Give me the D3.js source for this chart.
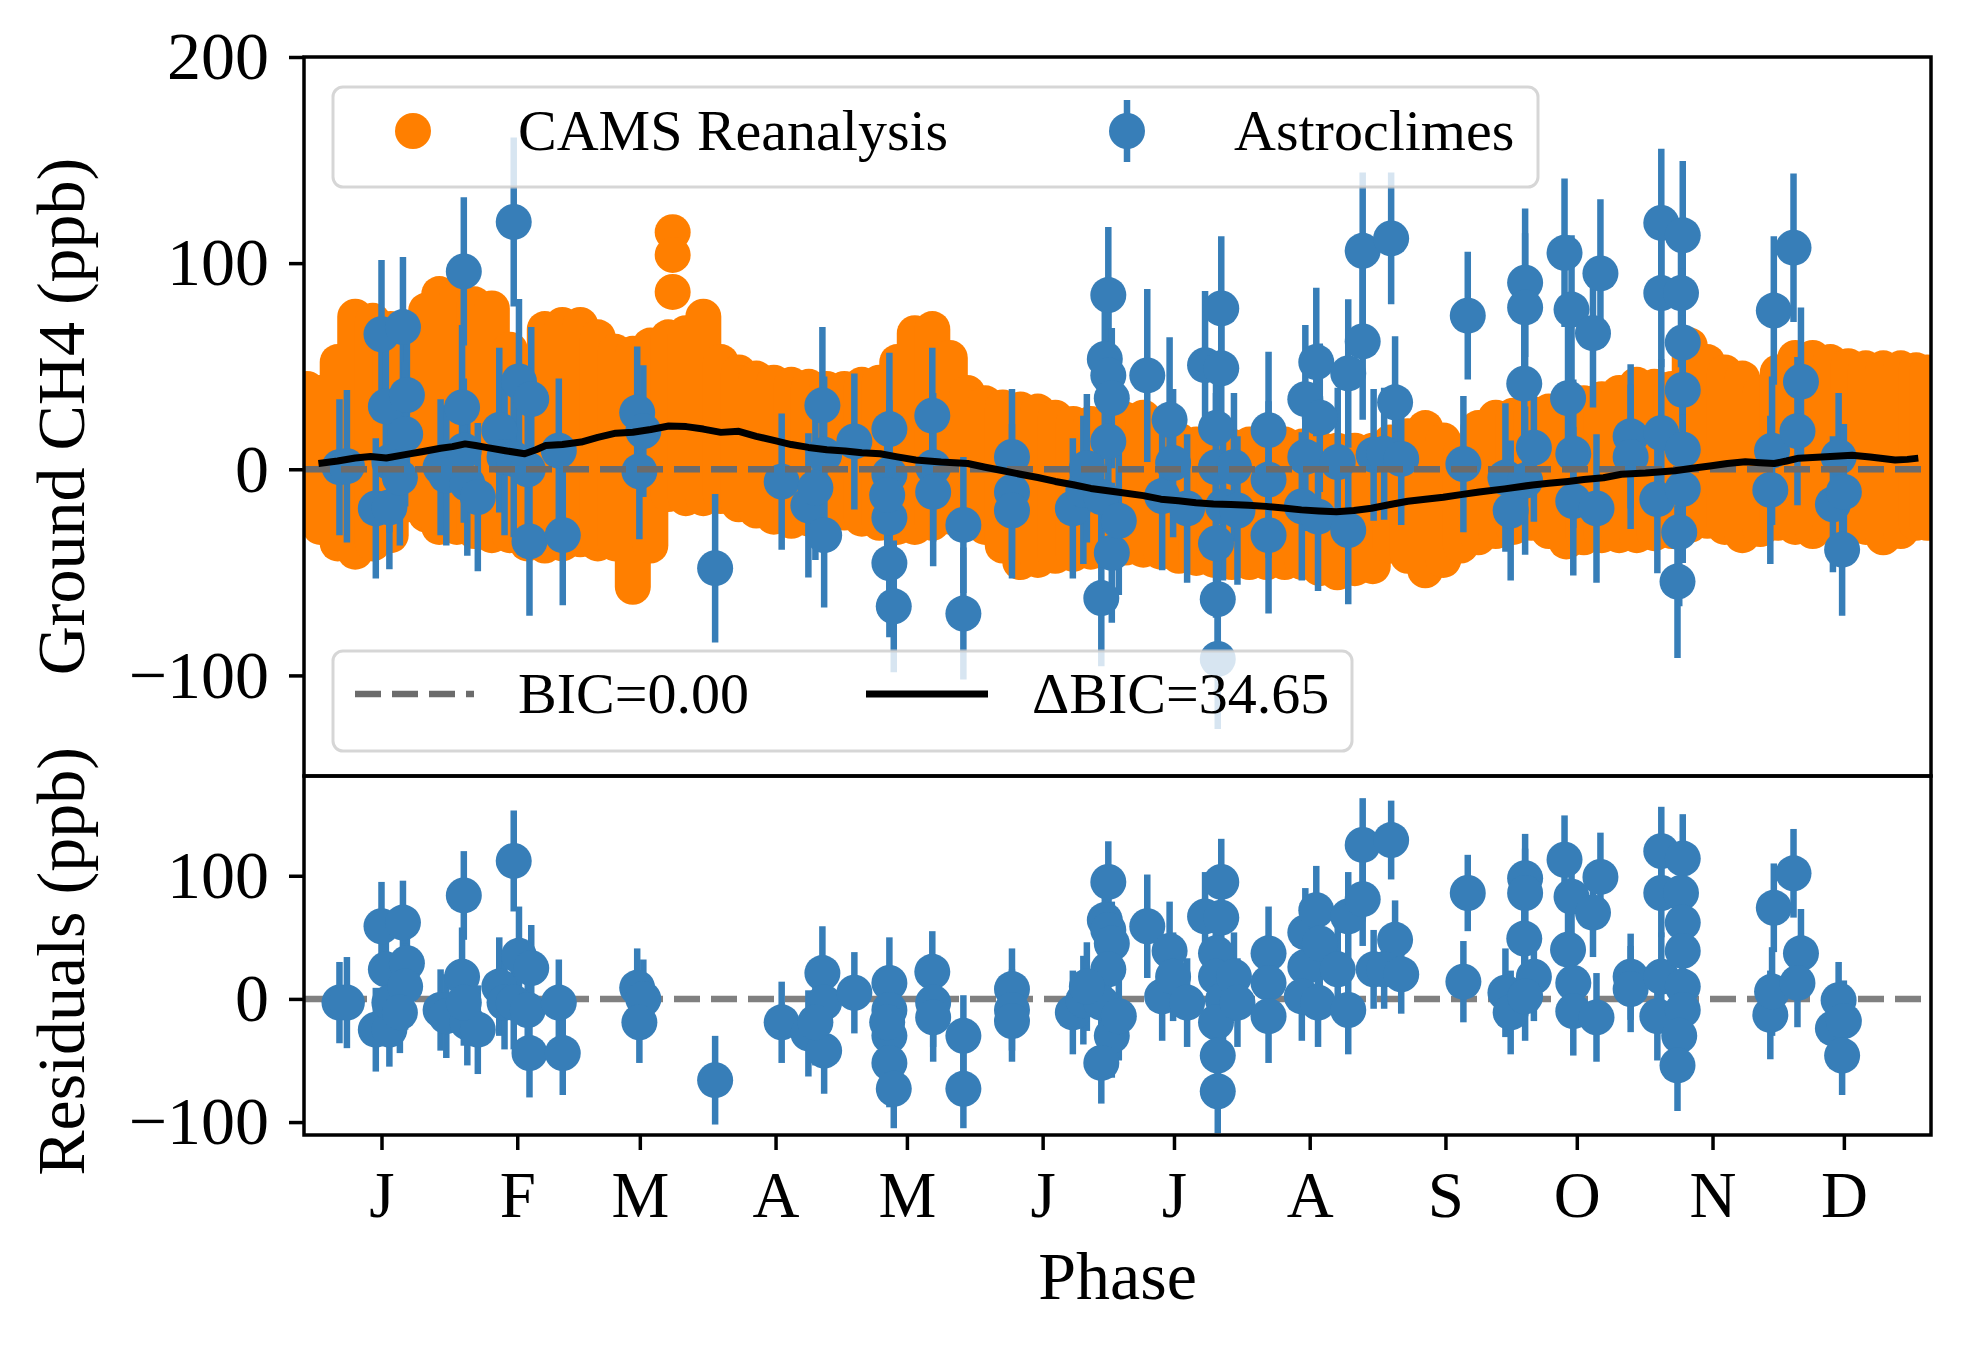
<!DOCTYPE html>
<html lang="en">
<head>
    <meta charset="UTF-8">
    <title>Ground CH4</title>
    <style>
        body { margin: 0; background: #fff; }
        svg text { font-family: "Liberation Serif", "DejaVu Serif", serif; }
    </style>
</head>
<body>
<svg id="chart" width="1966" height="1345"></svg>
<script src="https://d3js.org/d3.v7.min.js"></script>
<script>
// month ticks (day of year) and labels
let monthTicks = [0, 31, 59, 90, 120, 151, 181, 212, 243, 273, 304, 334];
let monthLabels = ["J", "F", "M", "A", "M", "J", "J", "A", "S", "O", "N", "D"];
let mainTicks = [200, 100, 0, -100];
let residTicks = [100, 0, -100];

// CAMS reanalysis: spread of the daily values (upper / lower marker centres)
let camsDay  = [-17, -14, -10, -6, -2, 2.1, 6.1, 10.2, 13.2, 17.2, 21.2, 25.2, 29.3, 33.3, 37.3, 41.3, 45.4, 49.4, 53.4, 57.4, 61.4, 65.5, 69.5, 73.5, 77.5, 81.6, 85.6, 89.6, 93.6, 97.6, 101.7, 105.7, 109.7, 113.7, 117.8, 121.8, 125.8, 129.8, 133.8, 137.9, 141.9, 145.9, 149.9, 153.9, 158, 162, 166, 170, 174, 178, 182.1, 186.1, 190.2, 194.2, 198.2, 202.2, 206.3, 210.3, 214.3, 218.3, 222.3, 226.4, 230.4, 234.4, 238.4, 242.5, 246.5, 250.5, 254.5, 258.5, 262.6, 266.6, 270.6, 274.6, 278.7, 282.7, 286.7, 290.7, 294.7, 298.8, 302.8, 306.8, 310.8, 314.9, 318.9, 322.9, 326.9, 330.9, 335, 339, 343, 347, 350.5, 353];
let camsHigh = [39, 37, 52, 74, 72, 68, 68, 77, 85, 83, 80, 78, 58, 49, 68, 70, 70, 64, 57, 56, 60, 64, 66, 74, 52, 47, 44, 42, 41, 40, 39, 39, 41, 42, 52, 66, 68, 54, 37, 32, 30, 29, 28, 25, 22, 22, 23, 24, 25, 16, 14, 12, 11, 11, 12, 12, 12, 11, 10, 9, 9, 9, 13, 16, 20, 14, 8, 20, 25, 26, 27, 28, 30, 32, 34, 37, 41, 40, 39, 60, 52, 47, 44, 37, 47, 54, 54, 52, 50, 49, 49, 49, 48, 47];
let camsLow  = [-14, -28, -36, -40, -36, -32, -17, -22, -28, -28, -30, -32, -32, -36, -37, -36, -34, -36, -36, -57, -37, -12, -14, -14, -13, -17, -20, -23, -25, -24, -23, -21, -24, -26, -28, -28, -26, -23, -25, -28, -37, -45, -44, -42, -41, -40, -39, -38, -39, -40, -42, -43, -44, -45, -45, -45, -45, -45, -48, -50, -48, -47, -37, -42, -49, -44, -37, -33, -30, -28, -26, -30, -35, -33, -32, -32, -32, -31, -30, -27, -25, -28, -32, -29, -26, -28, -30, -27, -23, -28, -33, -30, -26, -26];
let camsOutDay = [66.5, 66.5, 66.5];
let camsOutVal = [115, 104, 86];

// Astroclimes measurements: phase (day), value, error, residual
let astroDay = [-9.6, -7.9, -1.3, 0, 1, 1.8, 1.8, 4.9, 5.8, 5.4, 4.2, 13.5, 14.8, 18.8, 18.4, 19.6, 22, 18.8, 26.9, 28.1, 30.2, 31.4, 34.2, 33.8, 30.2, 33.4, 40.5, 41.4, 58.4, 59.8, 58.9, 76.2, 91.4, 97.5, 100.7, 101.1, 101.1, 99.1, 108,
    116, 116, 116, 116, 117, 115.5, 125.8, 126, 126, 132.9, 132.9, 144, 144, 144, 157.9, 160.3, 166, 165.2, 166, 166.8, 166, 164.4, 166.8, 164.4, 161.1, 168.4, 174.9, 180, 178.3, 180.8, 184, 188.1, 191.8, 191.8, 190.6, 190.6, 192.2, 190.6, 191, 191, 194.7, 195.5, 202.6, 202.6, 202.6, 211, 211, 210.2, 213.5, 213.9, 214.3, 220.8, 220.8, 224.1, 224.1, 218.4, 230.6, 231.5, 226.6, 229, 232.9,
    248.1, 247.1, 256.7, 257.9, 261.2, 261.2, 261, 263.2, 261.2, 270.2, 271.8, 271, 272.2, 272.2, 278.4, 276.7, 277.5, 285.3, 285.3, 292.3, 292.3, 291.4, 292.3, 297.2, 296.8, 297.2, 297.2, 297.2, 297.2, 296.4, 296, 318, 317.2, 317.6, 322.5, 324.2, 323.4, 332.8, 331.5, 334, 333.6];
let astroVal = [1, 1.5, -19, 65.5, 30.5, -18.5, 3.5, 69, 36, 17, -4, 1, -3, 96, 30, -7, -13.5, 9, 19, 6, 120, 42.6, 34, -35, 5, 0, 9, -32, 27.5, 18.5, -1, -48, -6, -17.5, 31, 7, -32, -9, 13.5,
    19.5, -2.5, -23.5, -45.5, -66.5, -12.5, 26, 1, -11, -27, -70, 6, -11, -20, -19, -10, 84.5, 53.5, 45.5, 34.5, 13.5, -13.5, -40.5, -62.5, 0.5, -25, 45.5, 24, -13, 3, -19, 50.5, 78, 49, 20, 1, -18, -36, -63, -92, 1, -20, 19, -5, -32, 34, 6, -18, 52, -23, 25, 46.5, -29.5, 106, 62, 3.5, 112, 32.5, 7, 7.5, 5,
    74.5, 2.5, -4, -20, 90.5, 78.5, 41.5, 10.5, -5.5, 105, 77.5, 34.5, 7.5, -15.5, 95, 66, -19, 16, 6, 119.5, 85.5, -14.5, 17.5, 113.5, 85.5, 61.5, 38.5, 9.5, -9.5, -30.5, -54.5, 77, -10, 9, 107.5, 42.5, 18.5, 6, -17, -11, -39];
let astroErr = [33, 37, 34, 36, 35, 30, 34, 34, 35, 35, 33, 33, 34, 36, 40, 35, 36, 35, 40, 38, 41, 40, 35, 36, 38, 38, 35, 34, 32, 32, 33, 36, 33, 35, 38, 38, 35, 35, 33,
    37, 36, 36, 36, 32, 36, 33, 36, 36, 33, 32, 33, 33, 33, 34, 36, 33, 34, 34, 34, 34, 34, 34, 33, 36, 36, 42, 40, 36, 36, 36, 36, 35, 36, 36, 36, 36, 36, 36, 34, 36, 36, 38, 38, 38, 36, 36, 36, 36, 36, 36, 36, 36, 38, 38, 36, 32, 32, 32, 32, 32,
    31, 33, 36, 34, 36, 36, 36, 36, 36, 36, 36, 36, 36, 36, 36, 36, 36, 35, 35, 36, 36, 36, 36, 36, 36, 36, 36, 36, 36, 36, 37, 36, 36, 36, 36, 36, 36, 31, 33, 33, 32];
let astroResid = [-3, -3, -25, 59, 24, -25, -3, 62, 29, 10, -11, -9, -14, 84, 18, -19, -25, -3, 10, -3, 112, 35, 25, -44, -3, -9, -3, -44, 9, 0, -19, -66, -19, -28, 21, -3, -42, -19, 5,
    13, -9, -30, -52, -73, -19, 22, -3, -15, -30, -73, 8, -9, -18, -11, -1, 95, 64, 56, 45, 24, -3, -30, -52, 10, -14, 59, 39, 2, 18, -3, 67, 95, 66, 37, 18, -1, -19, -46, -75, 18, -3, 37, 13, -14, 54, 26, 2, 72, -3, 45, 67, -9, 125, 81, 24, 129, 48, 24, 24, 20,
    86, 14, 5, -11, 98, 86, 49, 18, 2, 113, 83, 40, 13, -10, 99, 70, -15, 18, 8, 120, 86, -14, 18, 114, 86, 62, 39, 10, -9, -30, -54, 74, -13, 6, 102, 37, 13, -1, -24, -18, -46];

// best model (DeltaBIC=34.65)
let modelDay = [-14.4, -10, -6, -2.5, 1.1, 5.4, 9.2, 13.5, 16.2, 19.1, 21.5, 24.2, 28.3, 32.7, 35.3, 37.5, 41.3, 45.6, 49.4, 53.5, 57.4, 61.5, 65.6, 69.6, 73.5, 77.5, 81.6, 85.6, 89.6, 93.6, 97.5, 101.7, 105.9, 109.7, 113.9, 117.8, 122, 127.8, 133.9, 137.9, 142, 145.9, 149.9, 153.9, 158, 162, 168, 174, 178, 182, 186, 190, 194, 198, 202, 206, 210.1, 214.1, 218.1, 222.1, 226.1, 230.4, 234.4, 238.4, 242.5, 246.5, 250.7, 256.5, 262.9, 266.6, 271, 274.6, 279.1, 283.2, 288.7, 295.4, 299.4, 303.4, 307.4, 311.5, 314.9, 318.1, 320.9, 323.7, 328.9, 335.9, 340, 345.7, 348.5, 351];
let modelVal = [2.8, 4, 5.5, 6.2, 5.5, 7.1, 8.5, 10.2, 11, 12.3, 11.5, 10.5, 9, 7.5, 9.5, 11.5, 12, 13.2, 15.5, 17.5, 18, 19.3, 21, 20.7, 19.5, 17.9, 18.4, 16, 14, 12, 10.6, 9.5, 8.9, 8, 7.5, 6, 4.5, 3.5, 2.8, 1, -0.7, -2.4, -4, -5.9, -7.5, -9.3, -11, -12.8, -14.5, -15.3, -16.2, -16.8, -17.1, -17.5, -18, -18.8, -19.7, -20.2, -20.6, -20, -18.9, -17.1, -15.5, -14.5, -13.6, -12.3, -11, -9.5, -7.6, -6.8, -5.9, -5, -4.1, -2.4, -1.8, -0.7, 0.5, 1.6, 2.8, 3.7, 3.2, 2.8, 4, 5.4, 6, 6.8, 6, 4.5, 4.8, 5.4];

let orange = "#ff7f00", blue = "#377eb8";
let left = 304, right = 1931, topMain = 57, split = 776, bottom = 1135;
let markR = 18;

let svg = d3.select("#chart");

let x = d3.scaleLinear().domain([-17.7, 353.9]).range([left, right]);
let yMain = d3.scaleLinear().domain([-148.8, 200]).range([split, topMain]);
let yRes = d3.scaleLinear().domain([-110.5, 181]).range([bottom, split]);

let defs = svg.append("defs");
defs.append("clipPath").attr("id", "clipMain").append("rect")
    .attr("x", left).attr("y", topMain).attr("width", right - left).attr("height", split - topMain);
defs.append("clipPath").attr("id", "clipRes").append("rect")
    .attr("x", left).attr("y", split).attr("width", right - left).attr("height", bottom - split);

let astro = astroDay.map(function (d, i) {
    return {day: d, val: astroVal[i], err: astroErr[i], res: astroResid[i]};
});

// ---------- top panel ----------
let gMain = svg.append("g").attr("clip-path", "url(#clipMain)");

gMain.selectAll("line.cams")
    .data(camsDay)
    .enter()
    .append("line")
    .attr("class", "cams")
    .attr("x1", function (d) { return x(d); })
    .attr("x2", function (d) { return x(d); })
    .attr("y1", function (d, i) { return yMain(camsHigh[i]); })
    .attr("y2", function (d, i) { return yMain(camsLow[i]); })
    .style("stroke", orange)
    .style("stroke-width", markR * 2)
    .style("stroke-linecap", "round");

gMain.selectAll("circle.camsOut")
    .data(camsOutDay)
    .enter()
    .append("circle")
    .attr("class", "camsOut")
    .attr("cx", function (d) { return x(d); })
    .attr("cy", function (d, i) { return yMain(camsOutVal[i]); })
    .attr("r", markR)
    .style("fill", orange);

function drawErrorbars(g, yScale, key) {
    g.selectAll("line.err")
        .data(astro)
        .enter()
        .append("line")
        .attr("class", "err")
        .attr("x1", function (d) { return x(d.day); })
        .attr("x2", function (d) { return x(d.day); })
        .attr("y1", function (d) { return yScale(d[key] + d.err); })
        .attr("y2", function (d) { return yScale(d[key] - d.err); })
        .style("stroke", blue)
        .style("stroke-width", 6.5);
    g.selectAll("circle.pt")
        .data(astro)
        .enter()
        .append("circle")
        .attr("class", "pt")
        .attr("cx", function (d) { return x(d.day); })
        .attr("cy", function (d) { return yScale(d[key]); })
        .attr("r", markR)
        .style("fill", blue);
}

drawErrorbars(gMain, yMain, "val");

gMain.append("line")
    .attr("x1", left).attr("x2", right)
    .attr("y1", yMain(0)).attr("y2", yMain(0))
    .style("stroke", "#6b6b6b")
    .style("stroke-width", 6.5)
    .style("stroke-dasharray", "26,11");

let modelLine = d3.line()
    .x(function (d, i) { return x(modelDay[i]); })
    .y(function (d) { return yMain(d); });
gMain.append("path")
    .attr("d", modelLine(modelVal))
    .style("fill", "none")
    .style("stroke", "black")
    .style("stroke-width", 7)
    .style("stroke-linejoin", "round");

// ---------- residual panel ----------
let gRes = svg.append("g").attr("clip-path", "url(#clipRes)");
gRes.append("line")
    .attr("x1", left).attr("x2", right)
    .attr("y1", yRes(0)).attr("y2", yRes(0))
    .style("stroke", "#808080")
    .style("stroke-width", 6.5)
    .style("stroke-dasharray", "26,11");
drawErrorbars(gRes, yRes, "res");

// ---------- axes ----------
function minusFmt(d) { return d < 0 ? "\u2212" + Math.abs(d) : String(d); }

function styleAxis(size) {
    return function (g) {
        g.select(".domain").remove();
        g.selectAll(".tick line").style("stroke", "black").style("stroke-width", 3.5);
        g.selectAll(".tick text")
            .style("font-family", '"Liberation Serif", "DejaVu Serif", serif')
            .style("font-size", size + "px")
            .style("fill", "black");
    };
}

svg.append("g")
    .attr("transform", "translate(" + left + ",0)")
    .call(d3.axisLeft(yMain).tickValues(mainTicks).tickFormat(minusFmt).tickSize(15).tickPadding(20))
    .call(styleAxis(68));

svg.append("g")
    .attr("transform", "translate(" + left + ",0)")
    .call(d3.axisLeft(yRes).tickValues(residTicks).tickFormat(minusFmt).tickSize(15).tickPadding(20))
    .call(styleAxis(68));

svg.append("g")
    .attr("transform", "translate(0," + bottom + ")")
    .call(d3.axisBottom(x).tickValues(monthTicks)
        .tickFormat(function (d, i) { return monthLabels[i]; })
        .tickSize(15).tickPadding(21))
    .call(styleAxis(65));

// frames
[[topMain, split], [split, bottom]].forEach(function (p) {
    svg.append("rect")
        .attr("x", left).attr("y", p[0])
        .attr("width", right - left).attr("height", p[1] - p[0])
        .style("fill", "none")
        .style("stroke", "black")
        .style("stroke-width", 3.5);
});

// axis labels
svg.append("text")
    .attr("transform", "translate(84," + ((topMain + split) / 2) + ") rotate(-90)")
    .attr("text-anchor", "middle")
    .style("font-size", "68px")
    .text("Ground CH4 (ppb)");
svg.append("text")
    .attr("transform", "translate(84," + ((split + bottom) / 2 + 6) + ") rotate(-90)")
    .attr("text-anchor", "middle")
    .style("font-size", "68px")
    .text("Residuals (ppb)");
svg.append("text")
    .attr("x", (left + right) / 2).attr("y", 1299)
    .attr("text-anchor", "middle")
    .style("font-size", "68px")
    .text("Phase");

// ---------- legends ----------
function legendBox(x0, y0, w, h) {
    svg.append("rect")
        .attr("x", x0).attr("y", y0).attr("width", w).attr("height", h)
        .attr("rx", 10).attr("ry", 10)
        .style("fill", "rgba(255,255,255,0.8)")
        .style("stroke", "rgba(204,204,204,0.8)")
        .style("stroke-width", 3);
}

legendBox(333, 87, 1205, 100);
svg.append("circle").attr("cx", 413).attr("cy", 131).attr("r", markR).style("fill", orange);
svg.append("text").attr("x", 518).attr("y", 150).style("font-size", "58px").text("CAMS Reanalysis");
svg.append("line").attr("x1", 1127).attr("x2", 1127).attr("y1", 100).attr("y2", 162)
    .style("stroke", blue).style("stroke-width", 6.5);
svg.append("circle").attr("cx", 1127).attr("cy", 131).attr("r", markR).style("fill", blue);
svg.append("text").attr("x", 1234).attr("y", 150).style("font-size", "58px").text("Astroclimes");

legendBox(333, 651, 1019, 100);
svg.append("line").attr("x1", 355).attr("x2", 474).attr("y1", 694).attr("y2", 694)
    .style("stroke", "#6b6b6b").style("stroke-width", 6.5).style("stroke-dasharray", "26,11");
svg.append("text").attr("x", 518).attr("y", 713).style("font-size", "58px").text("BIC=0.00");
svg.append("line").attr("x1", 866).attr("x2", 988).attr("y1", 694).attr("y2", 694)
    .style("stroke", "black").style("stroke-width", 7);
svg.append("text").attr("x", 1032).attr("y", 713).style("font-size", "58px").text("\u0394BIC=34.65");
</script>
</body>
</html>
